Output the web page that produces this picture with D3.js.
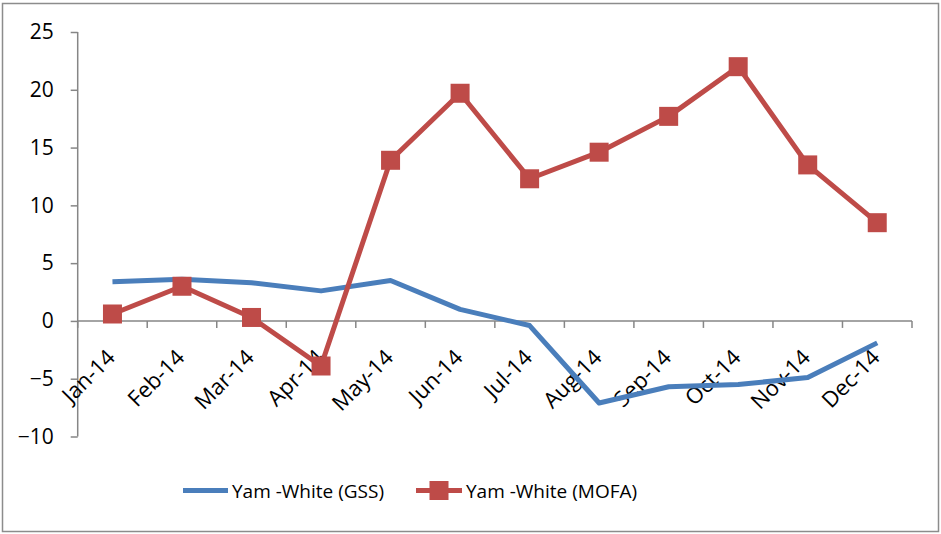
<!DOCTYPE html>
<html>
<head>
<meta charset="utf-8">
<script src="https://cdn.jsdelivr.net/npm/d3@7"></script>
<style>
  body { margin: 0; background: #fff; }
  text { font-family: "Open Sans", "Liberation Sans", sans-serif; fill: #000; }
</style>
</head>
<body>
<div id="chart"></div>
<script>
var months = ["Jan-14","Feb-14","Mar-14","Apr-14","May-14","Jun-14","Jul-14","Aug-14","Sep-14","Oct-14","Nov-14","Dec-14"];
var gss = [3.4, 3.6, 3.3, 2.6, 3.5, 1.0, -0.4, -7.1, -5.7, -5.5, -4.9, -1.9];
var mofa = [0.6, 3.0, 0.3, -3.9, 13.9, 19.7, 12.3, 14.6, 17.7, 22.0, 13.5, 8.5];
var yTicks = [-10, -5, 0, 5, 10, 15, 20, 25];
var seriesNames = ["Yam -White (GSS)", "Yam -White (MOFA)"];

var width = 941, height = 534;
var svg = d3.select("#chart").append("svg")
    .attr("width", width)
    .attr("height", height);

// outer frame
svg.append("rect")
    .attr("x", 2.5).attr("y", 3.5)
    .attr("width", 936).attr("height", 528)
    .attr("fill", "#fff")
    .attr("stroke", "#8c8c8c")
    .attr("stroke-width", 1.5);

var x = d3.scaleBand().domain(months).range([77.7, 912]);
var y = d3.scaleLinear().domain([-10, 25]).range([436.5, 32]);
var cx = function(d, i) { return x(months[i]) + x.bandwidth() / 2; };

var axisColor = "#868686";

// y axis
var yAxis = svg.append("g")
    .attr("transform", "translate(77.7,0)")
    .call(d3.axisLeft(y).tickValues(yTicks).tickSize(7).tickPadding(17));
yAxis.selectAll("path, line").attr("stroke", axisColor).attr("stroke-width", 1.5);
yAxis.select(".domain").attr("d", "M0," + y(-10) + "V" + y(25));
yAxis.selectAll("text").style("font-size", "21px").style("font-family", "'Open Sans', sans-serif");

// x axis at zero
var xAxis = svg.append("g").attr("transform", "translate(0," + y(0) + ")");
xAxis.append("line")
    .attr("x1", 77.7).attr("x2", 912)
    .attr("stroke", axisColor).attr("stroke-width", 1.5);
xAxis.selectAll(".tk").data(months.concat(["end"])).enter().append("line")
    .attr("class", "tk")
    .attr("x1", function(d, i) { return 77.7 + i * x.step(); })
    .attr("x2", function(d, i) { return 77.7 + i * x.step(); })
    .attr("y1", 0).attr("y2", 7)
    .attr("stroke", axisColor).attr("stroke-width", 1.5);
xAxis.selectAll(".lbl").data(months).enter().append("text")
    .attr("class", "lbl")
    .attr("text-anchor", "end")
    .attr("transform", function(d, i) { return "translate(" + (cx(d, i) + 4) + ",38) rotate(-45)"; })
    .style("font-size", "22px")
    .text(function(d) { return d; });

var line = d3.line()
    .x(function(d, i) { return cx(d, i); })
    .y(function(d) { return y(d); });

var blue = "#4a7ebb", red = "#be4b48";

svg.append("path").datum(gss)
    .attr("d", line)
    .attr("fill", "none").attr("stroke", blue)
    .attr("stroke-width", 5).attr("stroke-linejoin", "round");

svg.append("path").datum(mofa)
    .attr("d", line)
    .attr("fill", "none").attr("stroke", red)
    .attr("stroke-width", 5).attr("stroke-linejoin", "round");

svg.selectAll(".mk").data(mofa).enter().append("rect")
    .attr("class", "mk")
    .attr("x", function(d, i) { return cx(d, i) - 9.5; })
    .attr("y", function(d) { return y(d) - 9.5; })
    .attr("width", 19).attr("height", 19)
    .attr("fill", red);

// legend
var lg = svg.append("g");
lg.append("line").attr("x1", 183).attr("x2", 228).attr("y1", 490.5).attr("y2", 490.5)
    .attr("stroke", blue).attr("stroke-width", 5);
lg.append("text").attr("x", 232).attr("y", 498).style("font-size", "19px").text(seriesNames[0]);
lg.append("line").attr("x1", 416).attr("x2", 462).attr("y1", 490.5).attr("y2", 490.5)
    .attr("stroke", red).attr("stroke-width", 5);
lg.append("rect").attr("x", 429.5).attr("y", 481).attr("width", 19).attr("height", 19).attr("fill", red);
lg.append("text").attr("x", 466).attr("y", 498).style("font-size", "19px").text(seriesNames[1]);
</script>
</body>
</html>
